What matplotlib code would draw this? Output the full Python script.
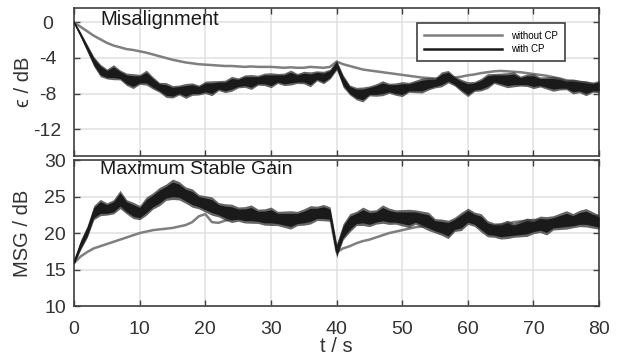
import numpy as np
import matplotlib
matplotlib.use("Agg")
import matplotlib.pyplot as plt

plt.rcParams['font.family'] = ['Liberation Sans', 'DejaVu Sans']
plt.rcParams['axes.unicode_minus'] = False

# time axis, one reading per second
t = np.arange(0, 81)

# misalignment (dB)
eps_without = [0, -0.5, -1.0, -1.5, -1.9, -2.3, -2.6, -2.8, -3.0, -3.1,
               -3.25, -3.4, -3.6, -3.8, -4.0, -4.2, -4.35, -4.5, -4.6, -4.7,
               -4.75, -4.8, -4.85, -4.9, -4.9, -4.95, -5.0, -4.95, -5.0, -5.0,
               -5.0, -5.05, -5.1, -5.05, -5.1, -5.1, -5.0, -5.05, -5.1, -5.0,
               -4.4, -4.7, -4.9, -5.1, -5.3, -5.4, -5.5, -5.6, -5.7, -5.8,
               -5.9, -6.0, -6.1, -6.2, -6.25, -6.3, -6.3, -6.25, -6.2, -6.1,
               -5.95, -5.85, -5.7, -5.6, -5.5, -5.45, -5.5, -5.55, -5.6, -5.7,
               -5.8, -5.9, -6.0, -6.15, -6.3, -6.5, -6.6, -6.7, -6.8, -6.9, -7.0]
eps_with = [0, -1.4, -2.9, -4.4, -5.4, -5.8, -5.6, -5.9, -6.4, -6.6,
            -6.4, -6.2, -6.8, -7.3, -7.6, -7.8, -7.6, -7.7, -7.5, -7.6,
            -7.3, -7.4, -7.1, -7.2, -6.9, -6.8, -6.6, -6.7, -6.5, -6.4,
            -6.5, -6.3, -6.4, -6.2, -6.3, -6.2, -6.4, -6.0, -6.2, -5.8,
            -4.8, -6.6, -7.6, -8.0, -8.1, -7.7, -7.6, -7.4, -7.4, -7.5,
            -7.5, -7.3, -7.2, -7.1, -6.9, -6.8, -6.4, -6.1, -6.6, -7.1,
            -7.5, -7.2, -7.0, -6.6, -6.3, -6.4, -6.5, -6.4, -6.6, -6.5,
            -6.6, -6.7, -6.8, -6.9, -6.9, -7.0, -7.2, -7.2, -7.4, -7.3, -7.2]
eps_spread = [0.1, 0.2, 0.3, 0.4, 0.5, 0.4, 0.6, 0.4, 0.5, 0.6,
              0.4, 0.6, 0.5, 0.4, 0.6, 0.5, 0.4, 0.6, 0.5, 0.4,
              0.5, 0.6, 0.4, 0.5, 0.6, 0.4, 0.5, 0.6, 0.4, 0.5,
              0.6, 0.4, 0.5, 0.6, 0.4, 0.5, 0.6, 0.4, 0.5, 0.4,
              0.4, 0.5, 0.4, 0.5, 0.6, 0.4, 0.5, 0.6, 0.4, 0.5,
              0.6, 0.4, 0.5, 0.6, 0.5, 0.4, 0.6, 0.5, 0.4, 0.5,
              0.6, 0.4, 0.5, 0.6, 0.4, 0.5, 0.6, 0.6, 0.4, 0.5,
              0.6, 0.4, 0.5, 0.6, 0.5, 0.4, 0.6, 0.5, 0.6, 0.4, 0.5]

# maximum stable gain (dB)
msg_without = [15.9, 16.8, 17.4, 17.9, 18.2, 18.5, 18.8, 19.1, 19.4, 19.7,
               20.0, 20.2, 20.4, 20.5, 20.6, 20.7, 20.9, 21.1, 21.5, 22.3,
               22.6, 21.5, 21.4, 21.7, 21.9, 22.0, 22.0, 22.1, 22.0, 22.1,
               22.0, 22.1, 22.0, 22.1, 22.2, 22.1, 22.2, 22.2, 22.3, 22.3,
               17.4, 17.9, 18.2, 18.6, 18.9, 19.1, 19.4, 19.7, 20.0, 20.2,
               20.4, 20.6, 20.8, 20.9, 21.0, 21.1, 21.2, 21.3, 21.4, 21.5,
               21.6, 21.4, 21.3, 21.1, 21.0, 21.1, 21.3, 21.5, 21.6, 21.7,
               21.8, 21.8, 21.7, 21.8, 21.9, 21.9, 22.0, 22.1, 22.2, 22.3, 22.4]
msg_with = [16.0, 18.4, 20.2, 22.8, 23.5, 23.3, 23.6, 24.6, 23.6, 23.1,
            22.8, 23.7, 24.4, 25.0, 25.6, 26.0, 25.8, 25.2, 24.8, 24.3,
            24.0, 23.7, 23.2, 22.9, 22.7, 22.6, 22.5, 22.6, 22.3, 22.2,
            22.3, 22.0, 21.9, 21.8, 22.0, 22.2, 22.5, 22.7, 22.8, 22.6,
            17.6, 20.2, 21.4, 22.0, 22.3, 22.0, 22.2, 22.6, 22.3, 22.2,
            22.1, 22.0, 22.2, 21.9, 21.6, 21.0, 20.8, 20.5, 21.2, 21.6,
            22.3, 21.9, 21.4, 20.6, 20.4, 20.3, 20.5, 20.4, 20.6, 20.8,
            20.9, 21.2, 21.0, 21.4, 21.6, 21.8, 21.7, 22.0, 22.1, 21.8, 21.5]
msg_spread = [0.2, 0.5, 0.6, 0.7, 0.8, 0.6, 0.7, 0.9, 0.7, 0.8,
              0.7, 0.9, 0.8, 0.9, 0.8, 1.0, 0.9, 0.8, 0.9, 0.7,
              0.8, 0.9, 0.7, 0.8, 0.9, 0.7, 0.8, 0.9, 0.7, 0.8,
              0.9, 0.7, 0.8, 0.9, 0.7, 0.8, 0.9, 0.7, 0.8, 0.7,
              0.7, 0.8, 0.9, 0.7, 0.9, 0.8, 0.7, 0.9, 0.8, 0.7,
              0.8, 0.9, 0.7, 0.8, 0.9, 0.7, 0.8, 0.9, 0.7, 0.9,
              0.8, 0.7, 0.9, 0.8, 0.7, 0.8, 0.9, 0.7, 0.8, 0.9,
              0.7, 0.8, 0.9, 0.7, 0.8, 0.9, 0.7, 0.8, 0.9, 0.8, 0.7]

grey = '#7f7f7f'
black = '#1a1a1a'
edge = '#404040'

fig = plt.figure(figsize=(6.28, 3.55), dpi=100)
ax1 = fig.add_axes([0.118, 0.561, 0.836, 0.416])
ax2 = fig.add_axes([0.118, 0.138, 0.836, 0.411])


def style(ax):
    ax.set_xlim(0, 80)
    ax.set_xticks(range(0, 81, 10))
    ax.grid(True, color='#e0e0e0', linewidth=1.1)
    ax.set_axisbelow(True)
    for s in ax.spines.values():
        s.set_color(edge)
        s.set_linewidth(1.2)
    ax.tick_params(direction='in', top=True, right=True, length=4.5,
                   width=1.0, color=edge, labelcolor='#333333', labelsize=14)


def noisy_band(ax, y, spread):
    y = np.array(y)
    spread = np.array(spread)
    # dark fringe, then the dense core
    ax.fill_between(t, y - 1.4 * spread, y + 1.4 * spread, color='#333333',
                    alpha=0.75, linewidth=0, zorder=3)
    ax.fill_between(t, y - spread, y + spread, color=black, linewidth=0, zorder=3)
    ax.plot(t, y, color=black, linewidth=1.2, zorder=3)


# top panel
style(ax1)
ax1.plot(t, eps_without, color=grey, linewidth=1.8, zorder=2)
noisy_band(ax1, eps_with, eps_spread)
ax1.plot([], [], color=grey, linewidth=1.8, label='without CP')
ax1.plot([], [], color=black, linewidth=1.8, label='with CP')
ax1.set_ylim(-15, 1.6)
ax1.set_yticks([0, -4, -8, -12])
ax1.tick_params(axis='x', labelbottom=False)
ax1.tick_params(axis='y', pad=19)
for lab in ax1.get_yticklabels():
    lab.set_horizontalalignment('center')
ax1.set_ylabel('\u03f5 / dB', fontsize=14.5, color='#333333')
ax1.yaxis.set_label_coords(-0.078, 0.5)
ax1.text(0.05, 0.985, 'Misalignment', transform=ax1.transAxes, ha='left', va='top',
         fontsize=14.5, color=black, zorder=1)
leg = ax1.legend(loc='upper left', bbox_to_anchor=(0.644, 0.93), fontsize=7,
                 handlelength=8.0, handletextpad=0.9, frameon=True, fancybox=False,
                 borderpad=0.75, labelspacing=0.35)
leg.get_frame().set_edgecolor(edge)
leg.get_frame().set_linewidth(1.2)
leg.get_frame().set_alpha(1)

# bottom panel
style(ax2)
ax2.plot(t, msg_without, color=grey, linewidth=1.8, zorder=2)
noisy_band(ax2, msg_with, msg_spread)
ax2.set_ylim(10, 30)
ax2.set_yticks([10, 15, 20, 25, 30])
ax2.tick_params(axis='y', pad=6)
ax2.tick_params(axis='x', pad=11)
ax2.set_ylabel('MSG / dB', fontsize=14.5, color='#333333')
ax2.yaxis.set_label_coords(-0.080, 0.5)
ax2.set_xlabel('t / s', fontsize=14.5, color='#333333', labelpad=-1)
ax2.text(0.05, 0.995, 'Maximum Stable Gain', transform=ax2.transAxes, ha='left',
         va='top', fontsize=14, color=black, zorder=1)

fig.savefig('out.png', dpi=100)
